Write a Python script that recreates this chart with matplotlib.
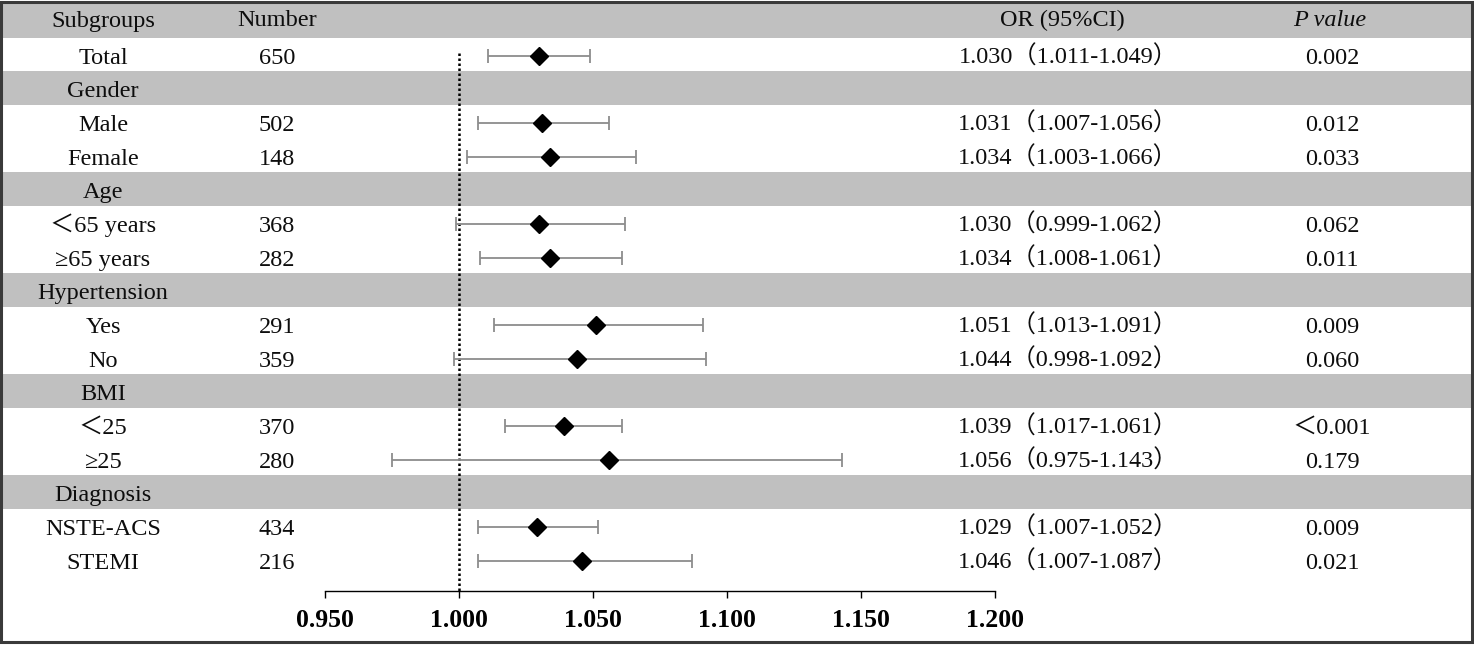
import matplotlib
matplotlib.use('Agg')
import matplotlib.pyplot as plt
from matplotlib.patches import Rectangle

# 表格数据
subgroups = ['Total', 'Gender', 'Male', 'Female', 'Age', '＜65 years', '≥65 years',
             'Hypertension', 'Yes', 'No', 'BMI', '＜25', '≥25',
             'Diagnosis', 'NSTE-ACS', 'STEMI']
numbers = ['650', '', '502', '148', '', '368', '282', '', '291', '359', '',
           '370', '280', '', '434', '216']
or_vals = [1.030, None, 1.031, 1.034, None, 1.030, 1.034, None, 1.051, 1.044, None,
           1.039, 1.056, None, 1.029, 1.046]
ci_low = [1.011, None, 1.007, 1.003, None, 0.999, 1.008, None, 1.013, 0.998, None,
          1.017, 0.975, None, 1.007, 1.007]
ci_high = [1.049, None, 1.056, 1.066, None, 1.062, 1.061, None, 1.091, 1.092, None,
           1.061, 1.143, None, 1.052, 1.087]
p_values = ['0.002', '', '0.012', '0.033', '', '0.062', '0.011', '', '0.009', '0.060', '',
            '＜0.001', '0.179', '', '0.009', '0.021']
group_rows = [1, 4, 7, 10, 13]
x_ticks = [0.950, 1.000, 1.050, 1.100, 1.150, 1.200]

W, H = 1474, 648
ROW0, PITCH = 56, 33.67
FONT = ['Liberation Serif', 'Noto Sans CJK SC', 'DejaVu Sans']
GREY = '#c0c0c0'
TXT = '#0d0d0d'
FS = 17.5
BASE = 7.5  # 行中心到基线的偏移 (像素)

fig = plt.figure(figsize=(W / 100, H / 100), dpi=100)
fig.patch.set_facecolor('white')

# 背景表格 (像素坐标)
bg = fig.add_axes([0, 0, 1, 1])
bg.set_xlim(0, W)
bg.set_ylim(H, 0)
bg.axis('off')


def row_y(k):
    return ROW0 + PITCH * k


def cell(x, y, s, **kw):
    bg.text(x, y + BASE, s, ha='center', va='baseline', fontsize=FS, family=FONT,
            color=TXT, **kw)


edge0 = row_y(0) - PITCH / 2 - 1.5
bg.add_patch(Rectangle((2, 2), W - 4, edge0 - 2, color=GREY, lw=0, zorder=0))
for k in group_rows:
    top = edge0 + PITCH * k
    bg.add_patch(Rectangle((2, top), W - 4, PITCH, color=GREY, lw=0, zorder=0))

# 表头
hy = 19
cell(103, hy, 'Subgroups')
cell(277, hy, 'Number')
cell(1062, hy, 'OR (95%CI)')
cell(1330, hy, 'P value', style='italic')

for k, name in enumerate(subgroups):
    y = row_y(k)
    cell(103, y, name)
    if numbers[k]:
        cell(277, y, numbers[k])
    if or_vals[k] is not None:
        cell(1068, y, f'{or_vals[k]:.3f}（{ci_low[k]:.3f}-{ci_high[k]:.3f}）')
    if p_values[k]:
        cell(1332, y, p_values[k])

# 外框
bg.add_patch(Rectangle((1.5, 1.5), W - 3, 640, fill=False, ec='#3a3a3a', lw=2.2, zorder=5))

# 森林图
x_left, x_right = 325, 995
axis_px, top_px = 591, 3
ax = fig.add_axes([x_left / W, 1 - axis_px / H, (x_right - x_left) / W, (axis_px - top_px) / H])
ax.patch.set_alpha(0)
ax.set_xlim(x_ticks[0], x_ticks[-1])
ax.set_ylim((axis_px - ROW0) / PITCH, (top_px - ROW0) / PITCH)

ax.vlines(1.0, -0.1, (axis_px - ROW0) / PITCH, colors='black', linestyles=(0, (1, 1)),
          lw=1.8, zorder=2)

for k, v in enumerate(or_vals):
    if v is None:
        continue
    ax.errorbar(v, k, xerr=[[v - ci_low[k]], [ci_high[k] - v]], fmt='none',
                ecolor='#8c8c8c', elinewidth=1.3, capsize=4.8, capthick=1.3, zorder=3)
    ax.plot(v, k, marker='D', color='black', ms=8.7, ls='none', zorder=4)

for side in ['top', 'right', 'left']:
    ax.spines[side].set_visible(False)
ax.spines['bottom'].set_linewidth(1.0)
ax.set_yticks([])
ax.set_xticks(x_ticks)
ax.set_xticklabels([f'{t:.3f}' for t in x_ticks], fontsize=18.5, fontweight='bold',
                   family=FONT)
ax.tick_params(axis='x', direction='out', length=5, width=1.0, pad=8)

fig.savefig('out.png', dpi=100, facecolor='white')
